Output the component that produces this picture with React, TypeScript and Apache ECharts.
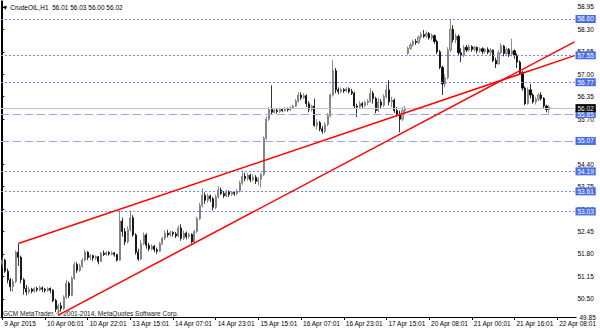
import React, { useEffect, useRef } from 'react';
import * as echarts from 'echarts';

const symbolName = 'CrudeOIL,H1';
const copyrightText = 'GCM MetaTrader, © 2001-2014, MetaQuotes Software Corp.';

// x-axis tick labels, one every 16 hourly bars
const timeTickLabels = [
  '9 Apr 2015', '10 Apr 06:01', '10 Apr 22:01', '13 Apr 15:01', '14 Apr 07:01',
  '14 Apr 23:01', '15 Apr 15:01', '16 Apr 07:01', '16 Apr 23:01', '17 Apr 15:01',
  '20 Apr 08:01', '21 Apr 00:01', '21 Apr 16:01', '22 Apr 08:01',
];
const barsPerTick = 16;
const totalSlots = 215; // bars shown incl. right-side chart shift

// price scale labels
const priceTicks = [49.85, 50.5, 51.15, 51.8, 52.45, 53.1, 53.75, 54.4, 55.05, 55.7, 56.35, 57.0, 57.65, 58.3, 58.95];
const priceMin = 49.974;
const priceMax = 59.121;

// horizontal levels
const dottedLevels = [58.6, 57.55, 56.77, 54.19, 53.61, 53.03];
const dashedLevels = [55.85, 55.07];
const currentPrice = 56.02;

// trend lines: [bar index, price]
const trendLineUpper = [[6, 52.1], [214.5, 57.54]];
const trendLineLower = [[21, 50.03], [214.5, 57.94]];

// hourly candles: [open, close, low, high]
const candles = [
  [51.50, 51.62, 51.40, 51.70], [51.62, 51.30, 51.25, 51.66], [51.30, 51.05, 50.95, 51.38], [51.05, 50.85, 50.72, 51.10],
  [50.85, 51.00, 50.70, 51.08], [51.00, 51.85, 50.95, 51.90], [51.85, 51.70, 51.45, 52.10], [51.70, 51.05, 50.95, 51.75],
  [51.05, 50.80, 50.62, 51.10], [50.80, 50.70, 50.60, 50.90], [50.70, 50.78, 50.65, 50.85], [50.78, 50.72, 50.66, 50.82],
  [50.72, 50.80, 50.68, 50.84], [50.80, 50.76, 50.70, 50.85], [50.76, 50.82, 50.72, 50.88], [50.82, 50.78, 50.70, 50.86],
  [50.78, 50.74, 50.68, 50.82], [50.74, 50.80, 50.70, 50.84], [50.80, 50.75, 50.66, 50.83], [50.75, 50.45, 50.40, 50.78],
  [50.45, 50.20, 50.12, 50.50], [50.20, 50.30, 50.04, 50.36], [50.30, 50.22, 50.14, 50.40], [50.22, 50.55, 50.18, 50.60],
  [50.55, 50.95, 50.50, 51.05], [50.95, 50.60, 50.52, 51.00], [50.60, 51.10, 50.58, 51.15], [51.10, 51.50, 51.05, 51.58],
  [51.50, 51.32, 51.25, 51.56], [51.32, 51.45, 51.28, 51.52], [51.45, 51.62, 51.40, 51.68], [51.62, 51.85, 51.58, 51.92],
  [51.85, 51.70, 51.62, 51.88], [51.70, 51.75, 51.62, 51.80], [51.75, 51.68, 51.60, 51.78], [51.68, 51.72, 51.62, 51.76],
  [51.72, 51.58, 51.50, 51.74], [51.58, 51.82, 51.56, 51.86], [51.82, 51.78, 51.74, 51.90], [51.78, 51.84, 51.75, 51.88],
  [51.84, 51.80, 51.75, 51.88], [51.80, 51.83, 51.76, 51.88], [51.83, 51.78, 51.72, 51.86], [51.78, 51.62, 51.58, 51.80],
  [51.62, 52.75, 51.60, 53.06], [52.75, 52.45, 52.30, 52.85], [52.45, 52.15, 52.05, 52.55], [52.15, 52.50, 52.10, 52.60],
  [52.50, 52.85, 52.45, 53.06], [52.85, 52.35, 52.30, 52.92], [52.35, 51.85, 51.78, 52.40], [51.85, 51.65, 51.60, 51.95],
  [51.65, 52.10, 51.62, 52.20], [52.10, 52.35, 52.05, 52.42], [52.35, 52.05, 51.95, 52.40], [52.05, 51.95, 51.88, 52.12],
  [51.95, 52.02, 51.90, 52.08], [52.02, 51.92, 51.85, 52.06], [51.92, 51.88, 51.80, 51.98], [51.88, 52.10, 51.85, 52.15],
  [52.10, 52.25, 52.05, 52.30], [52.25, 52.40, 52.20, 52.48], [52.40, 52.35, 52.28, 52.50], [52.35, 52.42, 52.30, 52.48],
  [52.42, 52.38, 52.30, 52.46], [52.38, 52.32, 52.26, 52.44], [52.32, 52.55, 52.28, 52.62], [52.55, 52.25, 52.18, 52.66],
  [52.25, 52.40, 52.20, 52.48], [52.40, 52.30, 52.22, 52.45], [52.30, 52.36, 52.25, 52.42], [52.36, 52.15, 52.10, 52.40],
  [52.15, 52.45, 52.12, 52.50], [52.45, 52.82, 52.40, 52.88], [52.82, 53.20, 52.78, 53.28], [53.20, 53.50, 53.15, 53.70],
  [53.50, 53.35, 53.25, 53.58], [53.35, 53.48, 53.28, 53.55], [53.48, 53.40, 53.30, 53.52], [53.40, 53.15, 53.06, 53.45],
  [53.15, 53.45, 53.10, 53.52], [53.45, 53.65, 53.40, 53.76], [53.65, 53.55, 53.50, 53.72], [53.55, 53.48, 53.42, 53.62],
  [53.48, 53.60, 53.44, 53.66], [53.60, 53.52, 53.45, 53.64], [53.52, 53.58, 53.48, 53.62], [53.58, 53.55, 53.48, 53.62],
  [53.55, 53.62, 53.50, 53.68], [53.62, 53.85, 53.58, 53.92], [53.85, 54.05, 53.80, 54.22], [54.05, 53.98, 53.90, 54.15],
  [53.98, 54.08, 53.92, 54.14], [54.08, 53.95, 53.88, 54.12], [53.95, 54.02, 53.90, 54.10], [54.02, 53.90, 53.82, 54.08],
  [53.90, 53.96, 53.78, 54.02], [53.96, 54.10, 53.72, 54.15], [54.10, 55.15, 54.05, 55.20], [55.15, 55.70, 55.10, 55.78],
  [55.70, 55.98, 55.65, 56.05], [55.98, 55.90, 55.85, 56.68], [55.90, 55.96, 55.86, 56.02], [55.96, 55.92, 55.86, 56.00],
  [55.92, 55.98, 55.88, 56.03], [55.98, 55.95, 55.90, 56.02], [55.95, 56.00, 55.92, 56.05], [56.00, 55.97, 55.92, 56.04],
  [55.97, 56.03, 55.94, 56.07], [56.03, 56.08, 56.00, 56.12], [56.08, 56.22, 56.05, 56.28], [56.22, 56.40, 56.18, 56.48],
  [56.40, 56.32, 56.25, 56.48], [56.32, 56.38, 56.28, 56.45], [56.38, 56.15, 56.05, 56.42], [56.15, 55.98, 55.90, 56.22],
  [55.98, 56.08, 55.92, 56.12], [56.08, 55.52, 55.48, 56.30], [55.52, 55.60, 55.40, 55.70], [55.60, 55.42, 55.35, 55.65],
  [55.42, 55.35, 55.28, 55.50], [55.35, 55.55, 55.30, 55.62], [55.55, 55.80, 55.50, 55.88], [55.80, 56.40, 55.75, 56.45],
  [56.40, 57.10, 56.35, 57.41], [57.10, 56.55, 56.45, 57.18], [56.55, 56.50, 56.42, 56.62], [56.50, 56.56, 56.45, 56.62],
  [56.56, 56.52, 56.46, 56.60], [56.52, 56.58, 56.48, 56.63], [56.58, 56.50, 56.44, 56.62], [56.50, 56.45, 56.40, 56.58],
  [56.45, 56.08, 56.02, 56.50], [56.08, 56.05, 55.76, 56.15], [56.05, 56.15, 56.00, 56.22], [56.15, 56.10, 56.02, 56.20],
  [56.10, 56.18, 56.05, 56.24], [56.18, 56.22, 56.10, 56.28], [56.22, 56.45, 56.18, 56.60], [56.45, 56.30, 56.15, 56.52],
  [56.30, 55.95, 55.87, 56.35], [55.95, 56.20, 55.90, 56.32], [56.20, 56.10, 56.00, 56.28], [56.10, 56.35, 56.05, 56.42],
  [56.35, 56.55, 56.30, 56.70], [56.55, 56.20, 56.10, 56.83], [56.20, 56.25, 56.05, 56.35], [56.25, 55.95, 55.88, 56.30],
  [55.95, 55.85, 55.78, 56.05], [55.85, 55.70, 55.32, 55.95], [55.70, 55.95, 55.65, 56.05], [55.95, 56.00, 55.85, 56.08],
  [57.60, 57.75, 57.55, 57.80], [57.75, 57.85, 57.70, 57.92], [57.85, 57.95, 57.80, 58.00], [57.95, 57.92, 57.85, 58.02],
  [57.92, 58.08, 57.88, 58.12], [58.08, 58.15, 58.02, 58.22], [58.15, 58.10, 58.05, 58.28], [58.10, 58.18, 58.05, 58.24],
  [58.18, 58.05, 58.00, 58.22], [58.05, 58.12, 57.98, 58.18], [58.12, 57.95, 57.88, 58.15], [57.95, 57.65, 57.58, 58.00],
  [57.65, 57.20, 57.15, 57.70], [57.20, 56.72, 56.40, 57.25], [56.72, 56.90, 56.62, 57.00], [56.90, 57.70, 56.85, 57.78],
  [57.70, 58.30, 57.65, 58.57], [58.30, 58.00, 57.92, 58.42], [58.00, 58.10, 57.90, 58.18], [58.10, 57.62, 57.55, 58.15],
  [57.62, 57.55, 57.35, 57.75], [57.55, 57.78, 57.50, 57.85], [57.78, 57.70, 57.64, 57.85], [57.70, 57.80, 57.66, 57.86],
  [57.80, 57.72, 57.65, 57.84], [57.72, 57.78, 57.66, 57.82], [57.78, 57.68, 57.60, 57.80], [57.68, 57.74, 57.62, 57.78],
  [57.74, 57.66, 57.58, 57.78], [57.66, 57.72, 57.60, 57.76], [57.72, 57.64, 57.58, 57.78], [57.64, 57.70, 57.56, 57.76],
  [57.70, 57.40, 57.35, 57.72], [57.40, 57.30, 57.18, 57.48], [57.30, 57.62, 57.28, 57.70], [57.62, 57.82, 57.58, 57.90],
  [57.82, 57.60, 57.52, 57.85], [57.60, 57.72, 57.55, 57.78], [57.72, 57.58, 57.50, 57.76], [57.58, 57.68, 57.52, 58.03],
  [57.68, 57.55, 57.45, 57.72], [57.55, 57.35, 57.18, 57.60], [57.35, 57.05, 56.98, 57.40], [57.05, 56.60, 56.52, 57.10],
  [56.60, 56.15, 56.10, 56.65], [56.15, 56.55, 56.12, 56.62], [56.55, 56.40, 56.30, 56.72], [56.40, 56.20, 56.15, 56.45],
  [56.20, 56.28, 56.12, 56.35], [56.28, 56.40, 56.22, 56.46], [56.40, 56.30, 56.24, 56.48], [56.30, 56.08, 56.02, 56.34],
  [56.08, 55.98, 55.90, 56.12], [55.98, 56.05, 55.87, 56.10], [56.01, 56.02, 56.00, 56.03],
];

const FONT = '"Liberation Sans", Arial, sans-serif';

export default function App() {
  const ref = useRef<HTMLDivElement>(null);
  useEffect(() => {
    if (!ref.current) return;
    const chart = echarts.init(ref.current, undefined, { renderer: 'svg' });
    const last = candles[candles.length - 1];
    const header = `${symbolName}  ${[last[0], last[3], last[2], last[1]].map((v) => v.toFixed(2)).join(' ')}`;
    const categories = Array.from({ length: totalSlots }, (_, i) => String(i));
    const showTick = (i: number) => i % barsPerTick === 0 && i / barsPerTick < timeTickLabels.length;

    const boxLabel = (bg: string) => ({
      show: true,
      position: 'end',
      distance: 1,
      formatter: (p: any) => Number(p.value).toFixed(2),
      backgroundColor: bg,
      color: '#fff',
      fontSize: 6.5,
      fontFamily: FONT,
      padding: [1, 2, 0, 2],
    });

    const baseGraphics: any[] = [
      {
        type: 'text', left: 2, top: 4,
        style: { text: '▼ ' + header, fontSize: 6.5, fill: '#000', fontFamily: FONT },
      },
      {
        type: 'text', left: 3, top: 310,
        style: { text: copyrightText, fontSize: 6.5, fill: '#222', fontFamily: FONT },
      },
    ];

    const option: any = {
      animation: false,
      backgroundColor: '#ffffff',
      grid: { left: 1, right: 25.5, top: 1, bottom: 16, containLabel: false },
      graphic: baseGraphics,
      xAxis: [
        {
          type: 'category',
          data: categories,
          boundaryGap: true,
          axisLine: { show: true, lineStyle: { color: '#000', width: 1 } },
          axisTick: { show: true, alignWithLabel: true, interval: (i: number) => showTick(i), length: 3, lineStyle: { color: '#000' } },
          axisLabel: {
            interval: (i: number) => showTick(i),
            formatter: (_v: string, i: number) => timeTickLabels[i / barsPerTick] ?? '',
            align: 'left', margin: 3, padding: [0, 0, 0, 2],
            fontSize: 6.5, color: '#000', fontFamily: FONT,
          },
          splitLine: { show: false },
        },
        { type: 'value', min: -0.5, max: totalSlots - 0.5, show: false },
      ],
      yAxis: [
        {
          type: 'value', position: 'right', min: priceMin, max: priceMax,
          axisLine: { show: true, lineStyle: { color: '#000' } },
          axisTick: { show: true, customValues: priceTicks, length: 2, lineStyle: { color: '#000' } },
          axisLabel: { customValues: priceTicks, formatter: (v: number) => v.toFixed(2), fontSize: 6.5, color: '#000', fontFamily: FONT, margin: 3 },
          splitLine: { show: false },
        },
        {
          type: 'value', position: 'left', min: priceMin, max: priceMax,
          axisLine: { show: true, lineStyle: { color: '#000' } },
          axisTick: { show: false }, axisLabel: { show: false }, splitLine: { show: false },
        },
      ],
      series: [
        {
          type: 'candlestick',
          xAxisIndex: 0, yAxisIndex: 0,
          data: candles,
          barWidth: 1.6,
          itemStyle: { color: '#bcbcbc', color0: '#000', borderColor: '#6e6e6e', borderColor0: '#000', borderWidth: 0.8 },
          markLine: {
            silent: true,
            symbol: ['none', 'none'],
            precision: 2,
            lineStyle: { color: '#6f8aee', width: 1 },
            data: [
              ...dottedLevels.map((v) => ({ yAxis: v, lineStyle: { type: [2, 2], color: '#6f8aee', width: 1, opacity: 1 }, label: boxLabel('#4a6de3') })),
              ...dashedLevels.map((v) => ({ yAxis: v, lineStyle: { type: [8, 4], color: '#8ea8f2', width: 1, opacity: 1 }, label: boxLabel('#4a6de3') })),
              { yAxis: currentPrice, lineStyle: { type: 'solid', color: '#c4c4c4', width: 1, opacity: 1 }, label: boxLabel('#000') },
            ],
          },
        },
        {
          type: 'line', xAxisIndex: 1, yAxisIndex: 0, data: trendLineUpper, symbol: 'none', z: 5,
          lineStyle: { color: '#ff0000', width: 1.5 },
        },
        {
          type: 'line', xAxisIndex: 1, yAxisIndex: 0, data: trendLineLower, symbol: 'none', z: 5,
          lineStyle: { color: '#ff0000', width: 1.5 },
        },
      ],
    };
    chart.setOption(option);

    // lowest scale label sits at the plot's lower edge, as in the terminal
    const lowest = priceTicks[0];
    const yLow = Math.min(chart.convertToPixel({ yAxisIndex: 0 }, lowest) as number, 317.5);
    const xRight = chart.convertToPixel({ xAxisIndex: 1 }, totalSlots - 0.5) as number;
    chart.setOption({
      graphic: [
        ...baseGraphics,
        {
          type: 'text', x: xRight + 5, y: yLow,
          style: { text: lowest.toFixed(2), fontSize: 6.5, fill: '#000', fontFamily: FONT, verticalAlign: 'middle' },
        },
        {
          type: 'line', shape: { x1: xRight, y1: yLow, x2: xRight + 2, y2: yLow },
          style: { stroke: '#000', lineWidth: 1 },
        },
      ],
    });
    return () => chart.dispose();
  }, []);
  return <div ref={ref} style={{ position: 'fixed', left: 0, top: 0, width: 600, height: 333 }} />;
}
